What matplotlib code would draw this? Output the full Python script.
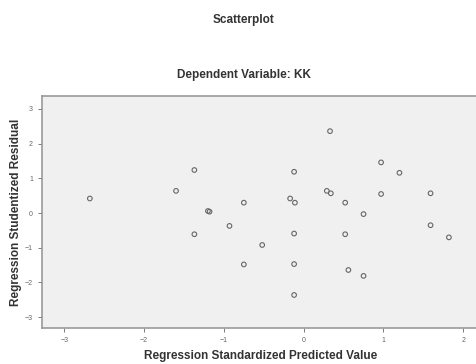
import matplotlib
matplotlib.use('Agg')
import matplotlib.pyplot as plt

# predicted (standardized) vs studentized residual
pred = [-2.68, -1.60, -1.37, -1.20, -1.18, -0.93, -1.37,
        0.33, -0.12, -0.75, -0.17, -0.11, 0.29, 0.34, 0.52, 0.75,
        0.97, 1.20, 0.97, 1.59, 1.59, 1.82, -0.52, -0.75, -0.12,
        0.52, -0.12, 0.56, 0.75, -0.12]
resid = [0.42, 0.64, 1.24, 0.06, 0.04, -0.37, -0.61,
         2.36, 1.19, 0.30, 0.42, 0.30, 0.64, 0.57, 0.30, -0.03,
         1.46, 1.16, 0.55, 0.57, -0.35, -0.70, -0.92, -1.48, -0.59,
         -0.61, -1.47, -1.64, -1.81, -2.36]
xticks = [-3, -2, -1, 0, 1, 2]
yticks = [-3, -2, -1, 0, 1, 2, 3]

plt.rcParams['font.family'] = ['Liberation Sans', 'DejaVu Sans']

fig = plt.figure(figsize=(4.77, 3.64), dpi=100)
ax = fig.add_axes([0.088, 0.099, 0.915, 0.637])
ax.set_facecolor('#f0f0f0')

ax.scatter(pred, resid, s=11, facecolors='none', edgecolors='#666666', linewidths=0.8)

ax.set_xlim(-3.28, 2.19)
ax.set_ylim(-3.31, 3.37)
ax.set_xticks(xticks)
ax.set_yticks(yticks)
ax.tick_params(labelsize=5, colors='#666666', length=3, width=0.6)
for s in ax.spines.values():
    s.set_color('#999999')
    s.set_linewidth(1.2)

ax.set_xlabel('Regression Standardized Predicted Value', fontsize=8.5, fontweight='bold', color='#333333')
ax.set_ylabel('Regression Studentized Residual', fontsize=8.5, fontweight='bold', color='#333333')
ax.yaxis.set_label_coords(-0.046, 0.5)

fig.text(0.51, 0.945, 'Scatterplot', ha='center', va='center', fontsize=8.5, fontweight='bold', color='#333333')
fig.text(0.512, 0.795, 'Dependent Variable: KK', ha='center', va='center', fontsize=8.5, fontweight='bold', color='#333333')

fig.savefig('out.png', dpi=100)
